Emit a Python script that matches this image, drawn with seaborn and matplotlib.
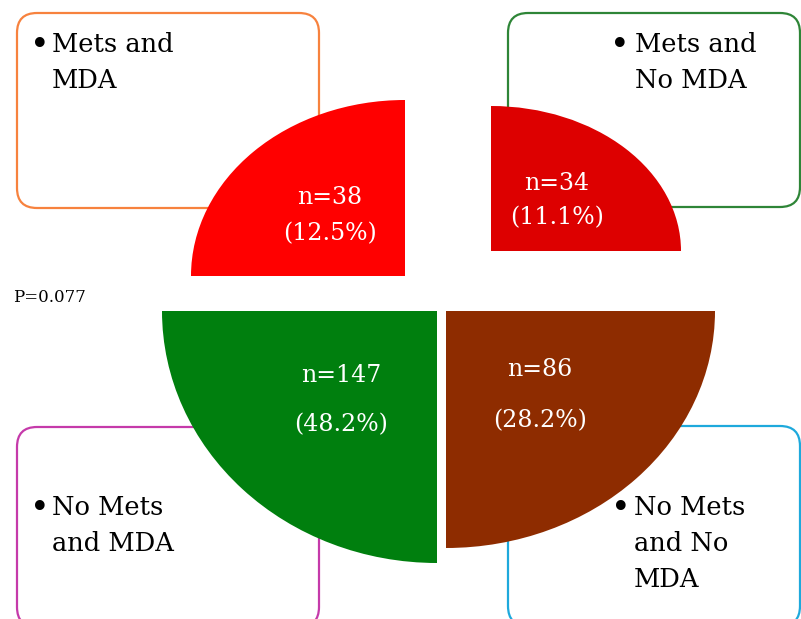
"""
Mets / MDA quadrant diagram: four quarter wedges with corner label boxes.
"""

import numpy as np
import seaborn as sns
import matplotlib.pyplot as plt
from matplotlib.patches import Wedge, FancyBboxPatch
from matplotlib.transforms import Affine2D

# data
groups = ["Mets and MDA", "Mets and No MDA", "No Mets and MDA", "No Mets and No MDA"]
label_lines = [["Mets and", "MDA"], ["Mets and", "No MDA"],
               ["No Mets", "and MDA"], ["No Mets", "and No", "MDA"]]
counts = [38, 34, 147, 86]
percents = [12.5, 11.1, 48.2, 28.2]
p_value = 0.077

# layout (pixel space, y down)
corners = [(405, 276), (491, 251), (437, 311), (446, 311)]
radii = [(214, 176), (190, 145), (275, 252), (269, 237)]
angles = [(180, 270), (270, 360), (90, 180), (0, 90)]
wedge_colors = ["#FF0000", "#DD0000", "#007F0E", "#8E2C00"]
text_pos = [((330, 198), (330, 234)), ((557, 183), (557, 218)),
            ((341, 375), (341, 425)), ((540, 370), (540, 421))]

boxes = [(17, 13, 302, 195), (508, 13, 292, 194), (17, 427, 302, 200), (508, 426, 292, 200)]
box_colors = ["#F7823E", "#2E8537", "#C53AAA", "#1EA9DC"]
bullet_x = [40, 620, 40, 621]
line_x = [52, 635, 52, 634]
first_base = [52, 52, 515, 515]
line_step = 36

sns.set_theme(style="white")
plt.rcParams["font.family"] = ["DejaVu Serif"]

fig = plt.figure(figsize=(8.01, 6.19), dpi=100)
ax = fig.add_axes([0, 0, 1, 1])
ax.set_xlim(0, 801)
ax.set_ylim(619, 0)
ax.axis("off")

for (x, y, w, h), col in zip(boxes, box_colors):
    ax.add_patch(FancyBboxPatch((x, y), w, h, boxstyle="round,pad=0,rounding_size=20",
                                facecolor="white", edgecolor=col, linewidth=1.6, zorder=1))

for i, lines in enumerate(label_lines):
    ax.text(bullet_x[i], first_base[i] + 3, "\u2022", fontsize=24, va="baseline", ha="center",
            color="black", zorder=2)
    for j, line in enumerate(lines):
        ax.text(line_x[i], first_base[i] + j * line_step, line, fontsize=18.5,
                va="baseline", ha="left", color="black", zorder=2)

for i in range(len(groups)):
    cx, cy = corners[i]
    rx, ry = radii[i]
    t1, t2 = angles[i]
    tr = Affine2D().scale(rx, ry).translate(cx, cy) + ax.transData
    ax.add_patch(Wedge((0, 0), 1, t1, t2, facecolor=wedge_colors[i], edgecolor="none",
                       transform=tr, zorder=3))
    (nx, ny), (px, py) = text_pos[i]
    ax.text(nx, ny, f"n={counts[i]}", fontsize=17, color="white", ha="center", va="center", zorder=4)
    ax.text(px, py, f"({percents[i]:.1f}%)", fontsize=17, color="white", ha="center", va="center", zorder=4)

ax.text(13, 297, f"P={p_value}", fontsize=12, color="black", ha="left", va="center", zorder=2)

fig.savefig("out.png", dpi=100)
plt.close(fig)
